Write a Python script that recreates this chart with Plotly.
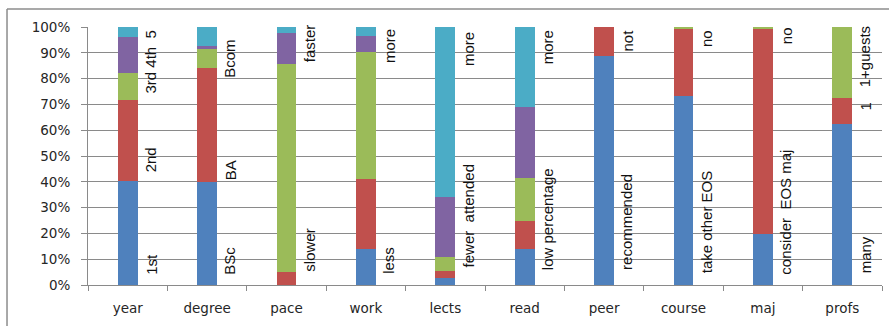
import plotly.graph_objects as go

# Survey responses, percent of students per answer (stacked to 100%)
categories = ["year", "degree", "pace", "work", "lects", "read", "peer", "course", "maj", "profs"]

s1 = [40.4, 40.0, 0.0, 13.8, 2.8, 13.8, 88.6, 73.3, 19.9, 62.3]
s2 = [31.2, 44.3, 4.9, 27.2, 2.6, 11.0, 11.4, 25.8, 79.2, 10.2]
s3 = [10.7, 7.1, 80.9, 49.3, 5.3, 16.6, 0.0, 0.9, 0.9, 27.5]
s4 = [13.7, 1.2, 11.9, 6.2, 23.4, 27.5, 0.0, 0.0, 0.0, 0.0]
s5 = [4.0, 7.4, 2.3, 3.5, 65.9, 31.1, 0.0, 0.0, 0.0, 0.0]

series = [s1, s2, s3, s4, s5]
colors = ["#4F81BD", "#C0504D", "#9BBB59", "#8064A2", "#4BACC6"]

NB = "\u00a0"  # keeps the wide gaps between words

# Answer captions beside each bar: (category, text, height in %)
captions = [
    ("year", "1st", 8.1), ("year", "2nd", 48.6), ("year", "3rd 4th" + NB + NB + "5", 86.5),
    ("degree", "BSc", 9.4), ("degree", "BA", 44.5), ("degree", "Bcom", 87.7),
    ("pace", "slower", 13.5), ("pace", "faster", 93.5),
    ("work", "less", 9.7), ("work", "more", 92.6),
    ("lects", "fewer" + NB + NB + "attended", 26.7), ("lects", "more", 91.6),
    ("read", "low percentage", 25.4), ("read", "more", 92.0),
    ("peer", "recommended", 24.5), ("peer", "not", 94.8),
    ("course", "take other EOS", 24.5), ("course", "no", 95.5),
    ("maj", "consider" + NB + NB + "EOS maj", 28.4), ("maj", "no", 96.8),
    ("profs", "many", 11.6), ("profs", "1", 69.3), ("profs", "1+guests", 88.4),
]

fig = go.Figure()
for vals, col in zip(series, colors):
    fig.add_trace(go.Bar(x=categories, y=vals, marker=dict(color=col, line=dict(width=0)),
                         width=0.25, showlegend=False, hoverinfo="skip"))

for cat, txt, yv in captions:
    fig.add_annotation(x=cat, y=yv, text=txt, textangle=-90, showarrow=False,
                       xanchor="center", yanchor="middle", xshift=23,
                       font=dict(family="Liberation Sans, Arial, sans-serif", size=15, color="#111111"))

axis_grey = "#8a8a8a"
fig.update_layout(
    barmode="stack",
    width=889, height=326,
    margin=dict(l=88, r=7, t=27, b=41),
    paper_bgcolor="white", plot_bgcolor="white",
    xaxis=dict(showline=True, linecolor=axis_grey, linewidth=1, ticks="outside",
               tickson="boundaries", ticklen=5, tickcolor=axis_grey, showgrid=False,
               tickfont=dict(family="DejaVu Sans, sans-serif", size=13.5, color="#262626"),
               ticklabelstandoff=11),
    yaxis=dict(range=[0, 100], dtick=10, ticksuffix="%", showline=True, linecolor=axis_grey,
               ticks="outside", ticklen=6, tickcolor=axis_grey, gridcolor=axis_grey, gridwidth=1,
               zeroline=False,
               tickfont=dict(family="DejaVu Sans, sans-serif", size=13.5, color="#262626"),
               ticklabelstandoff=8),
    shapes=[
        dict(type="line", xref="paper", yref="paper", x0=-0.102, x1=1.02, y0=1.0698, y1=1.0698,
             line=dict(color="#8c8c8c", width=1.5)),
        dict(type="line", xref="paper", yref="paper", x0=-0.102, x1=-0.102, y0=1.0698, y1=-0.2,
             line=dict(color="#8c8c8c", width=1.5)),
    ],
)

fig.write_html("out.html")
